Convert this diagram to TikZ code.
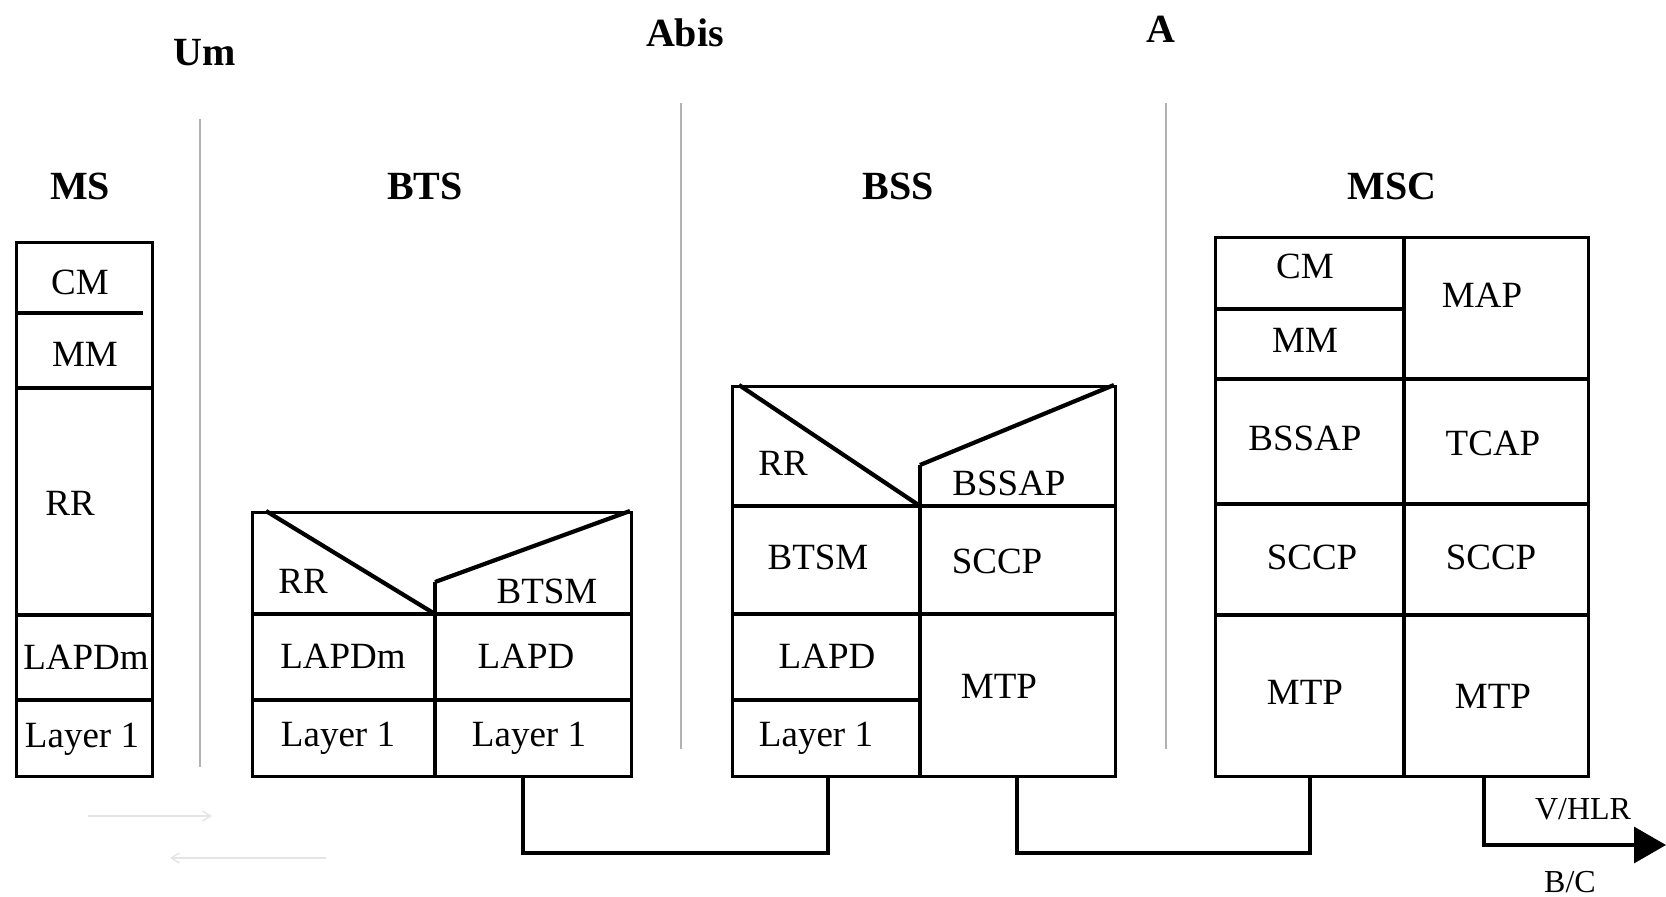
\documentclass[tikz,border=0pt]{standalone}
\usepackage{fontspec}
\setmainfont{Liberation Serif}
\usetikzlibrary{arrows.meta}
\tikzset{
  box/.style={draw, line width=3.3pt, rectangle, inner sep=0pt, anchor=north west},
  cell/.style={line width=3.3pt},
  diag/.style={line width=4.2pt, line join=miter},
  lbl/.style={font=\fontsize{37}{40}\selectfont, inner sep=0pt, text height=24pt, text depth=0pt, anchor=center},
  small/.style={font=\fontsize{32}{36}\selectfont, inner sep=0pt, text height=21pt, text depth=0pt, anchor=center},
  hdr/.style={font=\fontsize{40}{44}\selectfont\bfseries, inner sep=0pt, text height=27pt, text depth=0pt, anchor=center},
  sep/.style={draw=black!30, line width=2pt},
  link/.style={line width=3.3pt},
  ghost/.style={draw=black!10, line width=1.5pt, -{Straight Barb[length=8pt,width=10pt]}}
}
\begin{document}
\begin{tikzpicture}[x=1pt,y=-1pt]
\useasboundingbox (0,0) rectangle (1666,897);

% interface labels and separators
\node[hdr] (um) at (205,52) {Um};
\node[hdr] (abis) at (685,33) {Abis};
\node[hdr] (a) at (1161,29) {A};
\coordinate (s1t) at (200,119); \coordinate (s1b) at (200,767);
\coordinate (s2t) at (681,103); \coordinate (s2b) at (681,749);
\coordinate (s3t) at (1166,103); \coordinate (s3b) at (1166,749);
\draw[sep] (s1t) -- (s1b);
\draw[sep] (s2t) -- (s2b);
\draw[sep] (s3t) -- (s3b);

% entity headers
\node[hdr] (hms) at (80,186) {MS};
\node[hdr] (hbts) at (425,186) {BTS};
\node[hdr] (hbss) at (898,186) {BSS};
\node[hdr] (hmsc) at (1392,186) {MSC};

% ---------------- MS ----------------
\node[box, minimum width=136pt, minimum height=534pt] (ms) at (15,241) {};
\draw[cell] (15,313) -- (143,313);
\draw[cell] (15,388) -- (151,388);
\draw[cell] (15,615) -- (151,615);
\draw[cell] (15,700) -- (151,700);
\node[lbl] (mscm) at (80,282) {CM};
\node[lbl] (msmm) at (85,354) {MM};
\node[lbl] (msrr) at (70,503) {RR};
\node[lbl] (mslapdm) at (86,657) {LAPDm};
\node[lbl] (msl1) at (82,735) {Layer 1};

% ---------------- BTS ----------------
\node[box, minimum width=379pt, minimum height=264pt] (bts) at (251,511) {};
\draw[diag] (266,511) -- (435,614);
\draw[cell] (435,775) -- (435,582);
\draw[diag] (435,582) -- (630,511);
\draw[cell] (251,614) -- (630,614);
\draw[cell] (251,700) -- (630,700);
\node[lbl] (btsrr) at (303,581) {RR};
\node[lbl] (btsbtsm) at (547,591) {BTSM};
\node[lbl] (btslapdm) at (343,656) {LAPDm};
\node[lbl] (btslapd) at (526,656) {LAPD};
\node[lbl] (btsl1a) at (338,734) {Layer 1};
\node[lbl] (btsl1b) at (529,734) {Layer 1};

% ---------------- BSS ----------------
\node[box, minimum width=383pt, minimum height=390pt] (bss) at (731,385) {};
\draw[diag] (739,385) -- (920,506);
\draw[cell] (920,775) -- (920,465);
\draw[diag] (920,465) -- (1114,385);
\draw[cell] (731,506) -- (1114,506);
\draw[cell] (731,614) -- (1114,614);
\draw[cell] (731,700) -- (920,700);
\node[lbl] (bssrr) at (783,463) {RR};
\node[lbl] (bssbssap) at (1009,483) {BSSAP};
\node[lbl] (bssbtsm) at (818,557) {BTSM};
\node[lbl] (bsssccp) at (997,561) {SCCP};
\node[lbl] (bsslapd) at (827,656) {LAPD};
\node[lbl] (bssmtp) at (999,686) {MTP};
\node[lbl] (bssl1) at (816,734) {Layer 1};

% ---------------- MSC ----------------
\node[box, minimum width=373pt, minimum height=539pt] (msc) at (1214,236) {};
\draw[cell] (1404,236) -- (1404,775);
\draw[cell] (1214,309) -- (1404,309);
\draw[cell] (1214,379) -- (1587,379);
\draw[cell] (1214,504) -- (1587,504);
\draw[cell] (1214,615) -- (1587,615);
\node[lbl] (msccm) at (1305,266) {CM};
\node[lbl] (mscmm) at (1305,340) {MM};
\node[lbl] (mscmap) at (1482,295) {MAP};
\node[lbl] (mscbssap) at (1305,438) {BSSAP};
\node[lbl] (msctcap) at (1493,443) {TCAP};
\node[lbl] (mscsccpa) at (1312,557) {SCCP};
\node[lbl] (mscsccpb) at (1491,557) {SCCP};
\node[lbl] (mscmtpa) at (1305,692) {MTP};
\node[lbl] (mscmtpb) at (1493,696) {MTP};

% ---------------- connectors ----------------
\coordinate (c1) at (523,775);
\coordinate (c2) at (828,775);
\coordinate (c3) at (1017,775);
\coordinate (c4) at (1310,775);
\coordinate (c5) at (1484,775);
\coordinate (tip) at (1666,845);
\draw[link] (c1) -- (c1 |- 0,853) -- (c2 |- 0,853) -- (c2);
\draw[link] (c3) -- (c3 |- 0,853) -- (c4 |- 0,853) -- (c4);
\draw[link, -{Triangle[length=32pt,width=36pt]}] (c5) |- (tip);
\node[small] (vhlr) at (1583,809) {V/HLR};
\node[small] (bc) at (1570,882) {B/C};

% faint ghost arrows (scan residue)
\coordinate (g1a) at (88,816); \coordinate (g1b) at (212,816);
\coordinate (g2a) at (326,858); \coordinate (g2b) at (170,858);
\draw[ghost] (g1a) -- (g1b);
\draw[ghost] (g2a) -- (g2b);
\end{tikzpicture}
\end{document}
